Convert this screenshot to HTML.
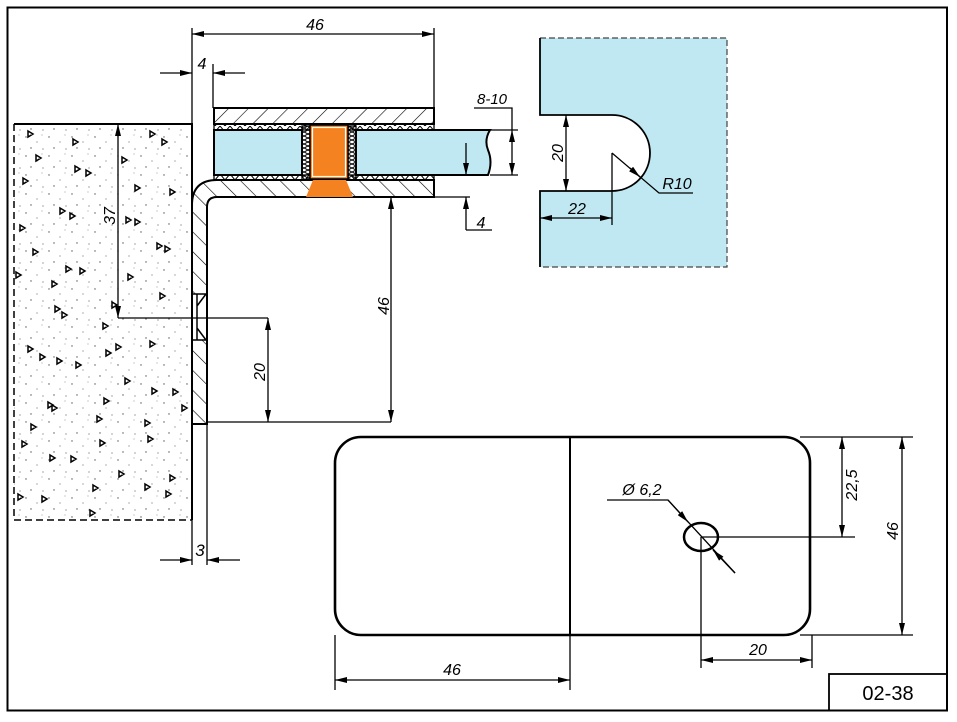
<!DOCTYPE html>
<html><head><meta charset="utf-8"><style>
html,body{margin:0;padding:0;background:#fff;width:957px;height:722px;overflow:hidden}
svg{display:block}
text{font-family:"Liberation Sans",sans-serif;font-style:italic;fill:#000}
</style></head><body>
<svg width="957" height="722" viewBox="0 0 957 722" xmlns="http://www.w3.org/2000/svg">
<defs>
<marker id="a" viewBox="0 0 12 6" refX="12" refY="3" markerWidth="12" markerHeight="6" markerUnits="userSpaceOnUse" orient="auto-start-reverse"><path d="M0,0 L12,3 L0,6 Z" fill="#000"/></marker>
<pattern id="h1" width="14" height="14" patternUnits="userSpaceOnUse" patternTransform="rotate(45)"><line x1="0" y1="0" x2="0" y2="14" stroke="#000" stroke-width="1.2"/></pattern>
<pattern id="h2" width="14" height="14" patternUnits="userSpaceOnUse" patternTransform="rotate(-45)"><line x1="0" y1="0" x2="0" y2="14" stroke="#000" stroke-width="1.2"/></pattern>
<pattern id="dots" width="23" height="19" patternUnits="userSpaceOnUse"><circle cx="3" cy="4" r="0.7" fill="#555"/><circle cx="14" cy="9" r="0.6" fill="#777"/><circle cx="8" cy="15" r="0.7" fill="#555"/><circle cx="19" cy="2" r="0.5" fill="#777"/><circle cx="20" cy="16" r="0.6" fill="#666"/></pattern>
<pattern id="zz" width="8" height="8" patternUnits="userSpaceOnUse"><path d="M0,0 L8,4 L0,8 M8,0 L0,4 L8,8" stroke="#000" fill="none" stroke-width="1"/></pattern>
<pattern id="zh" width="10" height="6" patternUnits="userSpaceOnUse"><path d="M0,0 L5,6 L10,0" stroke="#000" fill="none" stroke-width="1"/></pattern>
</defs>

<!-- frame -->
<rect x="7.5" y="7.5" width="939.5" height="703" fill="none" stroke="#000" stroke-width="2"/>
<rect x="829" y="674" width="118" height="36.5" fill="none" stroke="#000" stroke-width="1.8"/>
<text x="888" y="700" font-size="20" text-anchor="middle" style="font-style:normal">02-38</text>

<!-- concrete -->
<rect x="14" y="124" width="178" height="396" fill="url(#dots)"/>
<path d="M14,124 H192 V520" fill="none" stroke="#000" stroke-width="2"/>
<path d="M14,124 V520 H192" fill="none" stroke="#000" stroke-width="1.5" stroke-dasharray="7,4"/>
<g fill="#fff" stroke="#000" stroke-width="1.5">
<path d="M28,131 l5,3 -5,3z M73,139 l5,3 -5,3z M150,131 l5,3 -5,3z M162,139 l5,3 -5,3z M122,157 l5,3 -5,3z M36,155 l5,3 -5,3z M75,166 l5,3 -5,3z M86,170 l5,3 -5,3z M23,178 l5,3 -5,3z M135,185 l5,3 -5,3z M170,189 l5,3 -5,3z M60,208 l5,3 -5,3z M70,213 l5,3 -5,3z M126,217 l5,3 -5,3z M135,219 l5,3 -5,3z M20,225 l5,3 -5,3z M157,243 l5,3 -5,3z M165,246 l5,3 -5,3z M33,249 l5,3 -5,3z M66,266 l5,3 -5,3z M80,268 l5,3 -5,3z M52,281 l5,3 -5,3z M128,274 l5,3 -5,3z M16,272 l5,3 -5,3z M160,293 l5,3 -5,3z M55,306 l5,3 -5,3z M62,312 l5,3 -5,3z M112,302 l5,3 -5,3z M103,323 l5,3 -5,3z M28,346 l5,3 -5,3z M40,354 l5,3 -5,3z M116,344 l5,3 -5,3z M150,341 l5,3 -5,3z M106,350 l5,3 -5,3z M57,358 l5,3 -5,3z M76,362 l5,3 -5,3z M125,378 l5,3 -5,3z M152,388 l5,3 -5,3z M173,389 l5,3 -5,3z M104,398 l5,3 -5,3z M48,402 l5,3 -5,3z M52,405 l5,3 -5,3z M182,405 l5,3 -5,3z M97,416 l5,3 -5,3z M31,424 l5,3 -5,3z M145,420 l5,3 -5,3z M22,441 l5,3 -5,3z M100,440 l5,3 -5,3z M148,436 l5,3 -5,3z M50,455 l5,3 -5,3z M71,456 l5,3 -5,3z M119,471 l5,3 -5,3z M93,485 l5,3 -5,3z M145,484 l5,3 -5,3z M18,494 l5,3 -5,3z M42,496 l5,3 -5,3z M170,475 l5,3 -5,3z M166,491 l5,3 -5,3z M90,510 l5,3 -5,3z"/>
</g>

<!-- bracket L (hatched) -->
<path d="M192,424 V205 Q192,180 217,180 H434 V197 H217 Q207,197 207,207 V424 Z" fill="url(#h2)" stroke="#000" stroke-width="2"/>
<rect x="193" y="294" width="13" height="46" fill="#fff"/>
<path d="M193,294 H206 M193,340 H206 M197,294 V340 M206,294 L197,306 M206,340 L197,328" stroke="#000" fill="none" stroke-width="1.5"/>
<line x1="192" y1="424" x2="192" y2="565" stroke="#000" stroke-width="1.3"/>
<line x1="207" y1="424" x2="207" y2="565" stroke="#000" stroke-width="1.3"/>

<!-- top plate -->
<rect x="214" y="108" width="220" height="16" fill="url(#h1)" stroke="#000" stroke-width="2"/>
<rect x="214" y="124" width="220" height="6" fill="url(#zh)" stroke="#000" stroke-width="1.3"/>
<rect x="214" y="175" width="220" height="5" fill="url(#zh)" stroke="#000" stroke-width="1.3"/>
<rect x="214" y="130" width="88" height="45" fill="#c0e8f2" stroke="#000" stroke-width="2"/>
<path d="M356,130 H490 Q484,140 488,150 Q493,162 488,175 H356 Z" fill="#c0e8f2" stroke="#000" stroke-width="2"/>
<rect x="302" y="126" width="8" height="54" fill="url(#zz)" stroke="#000" stroke-width="1.3"/>
<rect x="348" y="126" width="8" height="54" fill="url(#zz)" stroke="#000" stroke-width="1.3"/>
<rect x="310" y="125" width="38" height="54" fill="#f58220" stroke="#000" stroke-width="1.5"/>
<rect x="312.5" y="127.5" width="33" height="49" fill="none" stroke="#fff" stroke-width="1.2"/>
<path d="M313,180 H346 L353,197 H306 Z" fill="#f58220"/>

<!-- dims top -->
<g stroke="#000" stroke-width="1.3" fill="none">
<line x1="192" y1="28" x2="192" y2="180"/>
<line x1="434" y1="28" x2="434" y2="108"/>
<line x1="192" y1="34" x2="434" y2="34" marker-start="url(#a)" marker-end="url(#a)"/>
<line x1="213" y1="64" x2="213" y2="108"/>
<line x1="160" y1="73" x2="192" y2="73" marker-end="url(#a)"/>
<line x1="245" y1="73" x2="213" y2="73" marker-end="url(#a)"/>
<path d="M474,108 H512 V130"/>
<line x1="490" y1="130" x2="518" y2="130"/>
<line x1="490" y1="175" x2="518" y2="175"/>
<line x1="512" y1="140" x2="512" y2="130" marker-end="url(#a)"/>
<line x1="512" y1="165" x2="512" y2="175" marker-end="url(#a)"/>
<line x1="512" y1="140" x2="512" y2="165"/>
<line x1="466" y1="143" x2="466" y2="175" marker-end="url(#a)"/>
<line x1="434" y1="197" x2="470" y2="197"/>
<path d="M466,230 V197" marker-end="url(#a)"/>
<path d="M466,230 H492"/>
<line x1="391" y1="197" x2="391" y2="422" marker-start="url(#a)" marker-end="url(#a)"/>
<line x1="207" y1="422" x2="391" y2="422"/>
<line x1="118" y1="124" x2="118" y2="318" marker-start="url(#a)" marker-end="url(#a)"/>
<line x1="118" y1="318" x2="268" y2="318"/>
<line x1="268" y1="318" x2="268" y2="422" marker-start="url(#a)" marker-end="url(#a)"/>
<line x1="160" y1="560" x2="192" y2="560" marker-end="url(#a)"/>
<line x1="240" y1="560" x2="207" y2="560" marker-end="url(#a)"/>
</g>
<text x="315" y="30" font-size="16" text-anchor="middle">46</text>
<text x="202" y="69" font-size="16" text-anchor="middle">4</text>
<text x="492" y="104" font-size="15" text-anchor="middle">8-10</text>
<text x="481" y="228" font-size="16" text-anchor="middle">4</text>
<text x="0" y="0" font-size="16" text-anchor="middle" transform="translate(389,306) rotate(-90)">46</text>
<text x="0" y="0" font-size="16" text-anchor="middle" transform="translate(115,216) rotate(-90)">37</text>
<text x="0" y="0" font-size="16" text-anchor="middle" transform="translate(265,372) rotate(-90)">20</text>
<text x="200" y="556" font-size="17" text-anchor="middle">3</text>

<!-- glass cutout view -->
<path d="M540,38 H727 V267 H540 V191 H612 A38,38 0 0 0 612,115 H540 Z" fill="#c0e8f2"/>
<path d="M540,38 H727 V267 H540" fill="none" stroke="#444" stroke-width="1.2" stroke-dasharray="6,3"/>
<path d="M540,38 V115 H612 A38,38 0 0 1 612,191 H540 V267" fill="none" stroke="#000" stroke-width="1.8"/>
<g stroke="#000" stroke-width="1.3" fill="none">
<line x1="566" y1="115" x2="566" y2="191" marker-start="url(#a)" marker-end="url(#a)"/>
<line x1="612" y1="153" x2="612" y2="225"/>
<line x1="540" y1="218" x2="612" y2="218" marker-start="url(#a)" marker-end="url(#a)"/>
<path d="M612,153 L659,193 H693"/>
<line x1="630" y1="168" x2="640" y2="177" marker-end="url(#a)"/>
</g>
<text x="0" y="0" font-size="16" text-anchor="middle" transform="translate(563,153) rotate(-90)">20</text>
<text x="577" y="214" font-size="16" text-anchor="middle">22</text>
<text x="677" y="189" font-size="16" text-anchor="middle">R10</text>

<!-- bottom plate view -->
<rect x="335" y="437" width="475" height="198" rx="26" ry="26" fill="none" stroke="#000" stroke-width="2.6"/>
<line x1="570" y1="437" x2="570" y2="635" stroke="#000" stroke-width="2"/>
<ellipse cx="701" cy="537" rx="17" ry="14" fill="none" stroke="#000" stroke-width="2.5"/>
<g stroke="#000" stroke-width="1.3" fill="none">
<path d="M607,500 H668 L735,573"/>
<line x1="668" y1="500" x2="688" y2="522" marker-end="url(#a)"/>
<line x1="735" y1="573" x2="713" y2="550" marker-end="url(#a)"/>
<line x1="701" y1="537" x2="855" y2="537"/>
<line x1="800" y1="437" x2="913" y2="437"/>
<line x1="800" y1="635" x2="913" y2="635"/>
<line x1="842" y1="437" x2="842" y2="537" marker-start="url(#a)" marker-end="url(#a)"/>
<line x1="902" y1="437" x2="902" y2="635" marker-start="url(#a)" marker-end="url(#a)"/>
<line x1="701" y1="537" x2="701" y2="668"/>
<line x1="812" y1="635" x2="812" y2="668"/>
<line x1="701" y1="660" x2="812" y2="660" marker-start="url(#a)" marker-end="url(#a)"/>
<line x1="335" y1="635" x2="335" y2="690"/>
<line x1="570" y1="635" x2="570" y2="690"/>
<line x1="335" y1="680" x2="570" y2="680" marker-start="url(#a)" marker-end="url(#a)"/>
</g>
<text x="642" y="495" font-size="16" text-anchor="middle">Ø 6,2</text>
<text x="0" y="0" font-size="16" text-anchor="middle" transform="translate(857,485) rotate(-90)">22,5</text>
<text x="0" y="0" font-size="16" text-anchor="middle" transform="translate(898,531) rotate(-90)">46</text>
<text x="758" y="655" font-size="16" text-anchor="middle">20</text>
<text x="452" y="675" font-size="16" text-anchor="middle">46</text>
</svg>
</body></html>
